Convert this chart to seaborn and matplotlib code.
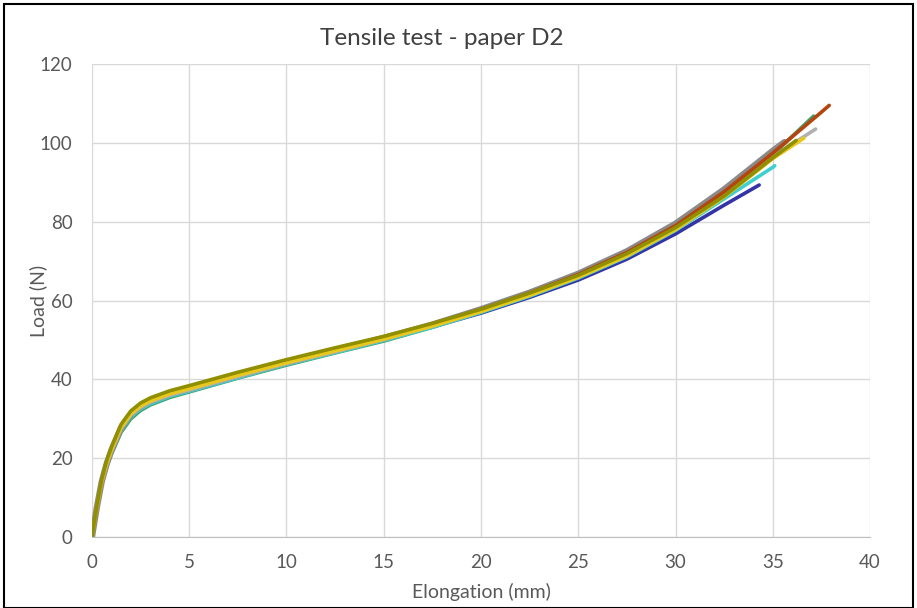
import pandas as pd
import matplotlib.pyplot as plt
import seaborn as sns
from matplotlib.patches import Rectangle

# elongation grid (mm), shared by all specimens
elong_grid = [0, 0.25, 0.5, 0.75, 1, 1.5, 2, 2.5, 3, 4, 5, 7.5, 10, 12.5, 15,
              17.5, 20, 22.5, 25, 27.5, 30, 32.5, 35, 37.5]

# load (N) per specimen on the grid, then the break point
load_blue = [0, 7.4, 13.9, 18.4, 21.9, 27.6, 31.0, 33.0, 34.3, 36.1, 37.4, 40.8, 44.1,
             47.0, 50.0, 53.3, 56.8, 60.8, 65.2, 70.5, 76.9, 84.2]
load_teal = [0, 7.0, 13.3, 17.6, 21.0, 26.6, 30.0, 32.1, 33.5, 35.4, 36.8, 40.3, 43.6,
             46.7, 49.7, 53.2, 57.1, 61.4, 66.1, 71.7, 78.4, 86.8, 97.0]
load_cyan = [0, 7.2, 13.6, 18.0, 21.4, 27.1, 30.5, 32.5, 33.8, 35.7, 37.0, 40.4, 43.8,
             46.8, 49.9, 53.2, 57.0, 61.1, 65.7, 71.1, 77.8, 85.8, 93.8]
load_gray = [0, 7.5, 14.0, 18.5, 22.0, 27.8, 31.2, 33.2, 34.5, 36.3, 37.6, 41.0, 44.3,
             47.4, 50.5, 53.9, 57.8, 62.0, 66.8, 72.5, 79.5, 88.2, 98.0]
load_lgray = [0, 7.4, 13.9, 18.3, 21.8, 27.5, 30.9, 32.9, 34.2, 36.0, 37.3, 40.7, 44.0,
              47.0, 50.1, 53.5, 57.3, 61.5, 66.1, 71.6, 78.3, 86.6, 96.5]
load_brown = [0, 7.6, 14.2, 18.8, 22.3, 28.1, 31.5, 33.5, 34.8, 36.6, 37.9, 41.3, 44.6,
              47.6, 50.7, 54.0, 57.7, 61.9, 66.6, 72.2, 79.0, 87.6, 97.4, 107.8]
load_yellow = [0, 7.5, 14.0, 18.5, 22.0, 27.8, 31.2, 33.2, 34.5, 36.3, 37.6, 41.0, 44.2,
               47.2, 50.2, 53.5, 57.2, 61.3, 65.9, 71.3, 78.0, 86.3, 96.0]
load_olive = [0, 7.9, 14.6, 19.3, 22.8, 28.6, 32.0, 34.0, 35.3, 37.1, 38.4, 41.8, 45.0,
              48.0, 50.9, 54.2, 57.8, 61.9, 66.4, 71.9, 78.5, 86.5, 96.2]

break_elong = {"blue": 34.3, "teal": 37.1, "cyan": 35.1, "gray": 35.6, "lgray": 37.2,
               "brown": 37.9, "yellow": 36.6, "olive": 36.2}
break_load = {"blue": 89.3, "teal": 106.8, "cyan": 94.2, "gray": 100.2, "lgray": 103.5,
              "brown": 109.5, "yellow": 101.2, "olive": 100.6}

series = {"blue": load_blue, "teal": load_teal, "cyan": load_cyan, "gray": load_gray,
          "lgray": load_lgray, "brown": load_brown, "yellow": load_yellow, "olive": load_olive}
colors = {"blue": "#3434a6", "teal": "#3aa36e", "cyan": "#3fcfcf", "gray": "#8a8a8a",
          "lgray": "#b0b0b0", "brown": "#b5450f", "yellow": "#e8c81c", "olive": "#8f8f00"}
widths = {"gray": 4.5}

rows = []
for name, loads in series.items():
    for x, y in zip(elong_grid, loads):
        rows.append((name, x, y))
    rows.append((name, break_elong[name], break_load[name]))
df = pd.DataFrame(rows, columns=["specimen", "elong", "load"])

sns.set_style("white")
plt.rcParams['font.family'] = ['Lato', 'DejaVu Sans']

fig = plt.figure(figsize=(9.17, 6.08), dpi=100)
ax = fig.add_axes([0.1003, 0.1168, 0.8485, 0.7779])

for name in series:
    sns.lineplot(data=df[df.specimen == name], x="elong", y="load", ax=ax,
                 color=colors[name], linewidth=widths.get(name, 2.6),
                 sort=False, estimator=None, legend=False)

ax.set_xlim(0, 40)
ax.set_ylim(0, 120)
ax.set_xticks(range(0, 41, 5))
ax.set_yticks(range(0, 121, 20))
ax.grid(True, color="#d9d9d9", linewidth=1)
ax.set_axisbelow(True)
for s in ["top", "right", "left"]:
    ax.spines[s].set_visible(False)
ax.spines["bottom"].set_color("#bfbfbf")
ax.tick_params(axis="x", length=0, labelsize=13.5, labelcolor="#595959", pad=12)
ax.tick_params(axis="y", length=0, labelsize=13.5, labelcolor="#595959", pad=14)
ax.set_xlabel("Elongation (mm)", fontsize=14, color="#595959", labelpad=9)
ax.set_ylabel("Load (N)", fontsize=14, color="#595959", va="center")
ax.yaxis.set_label_coords(-0.069, 0.5)
fig.text(0.4815, 0.937, "Tensile test - paper D2", ha="center", va="center",
         fontsize=17.5, color="#404040")

fig.patches.append(Rectangle((0.004, 0.0), 0.992, 0.993, transform=fig.transFigure,
                             fill=False, edgecolor="black", linewidth=1.5))

fig.savefig("out.png", dpi=100)
